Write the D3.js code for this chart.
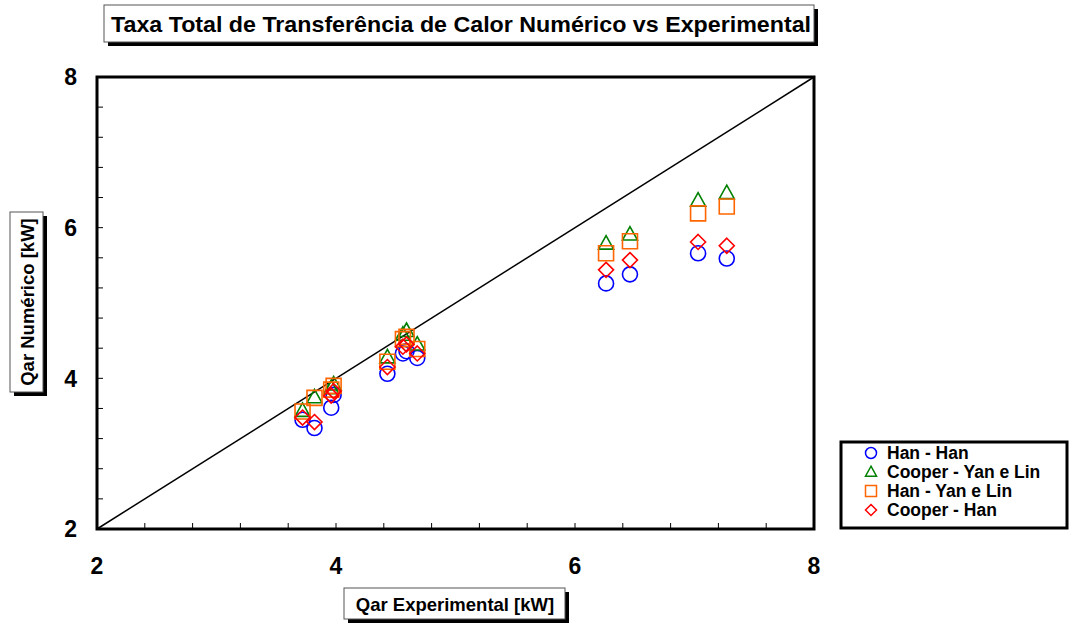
<!DOCTYPE html>
<html>
<head>
<meta charset="utf-8">
<script src="https://cdn.jsdelivr.net/npm/d3@7"></script>
<style>
  body { margin: 0; background: #fff; }
  svg text { font-family: "Liberation Sans", Arial, sans-serif; font-weight: bold; }
</style>
</head>
<body>
<svg id="svg1" width="1069" height="624"></svg>
<script>
"use strict"

// experimental heat rate (x) for every test point
const qExperimental = [3.72, 3.82, 3.96, 3.98, 4.43, 4.56, 4.59, 4.68, 6.26, 6.46, 7.03, 7.27];

// numerical heat rate for each model combination
const hanHan       = [3.45, 3.34, 3.61, 3.78, 4.06, 4.33, 4.36, 4.27, 5.26, 5.38, 5.66, 5.59];
const cooperYanLin = [3.57, 3.75, 3.87, 3.92, 4.28, 4.58, 4.63, 4.45, 5.79, 5.91, 6.36, 6.46];
const hanYanLin    = [3.56, 3.74, 3.85, 3.90, 4.22, 4.52, 4.55, 4.39, 5.66, 5.82, 6.19, 6.28];
const cooperHan    = [3.48, 3.42, 3.77, 3.83, 4.15, 4.42, 4.45, 4.33, 5.44, 5.57, 5.81, 5.76];

const seriesNames = ["Han - Han", "Cooper - Yan e Lin", "Han - Yan e Lin", "Cooper - Han"];
const majorTicks = [2, 4, 6, 8];
const minorTicks = d3.range(2.4, 8, 0.4);

const series = [
  {name: seriesNames[0], values: hanHan,       color: "#0000ff", shape: "circle"},
  {name: seriesNames[1], values: cooperYanLin, color: "#008000", shape: "triangle"},
  {name: seriesNames[2], values: hanYanLin,    color: "#ff6600", shape: "square"},
  {name: seriesNames[3], values: cooperHan,    color: "#ff0000", shape: "diamond"}
];

const svg = d3.select("#svg1");

const plotL = 97, plotR = 814, plotT = 77, plotB = 529;
const x = d3.scaleLinear().domain([2, 8]).range([plotL, plotR]);
const y = d3.scaleLinear().domain([2, 8]).range([plotB, plotT]);

// marker path drawn around (0,0)
function markerPath(shape, s) {
  if (shape === "circle") return d3.symbol(d3.symbolCircle, Math.PI * s * s)();
  if (shape === "square") return `M${-s},${-s}H${s}V${s}H${-s}Z`;
  if (shape === "triangle") return `M0,${-s * 1.05}L${s},${s * 0.75}L${-s},${s * 0.75}Z`;
  return `M0,${-s}L${s},0L0,${s}L${-s},0Z`;
}

// boxed label with drop shadow
function shadowBox(x0, y0, w, h) {
  svg.append("rect").attr("x", x0 + 4).attr("y", y0 + 4).attr("width", w).attr("height", h).attr("fill", "#000");
  svg.append("rect").attr("x", x0).attr("y", y0).attr("width", w).attr("height", h)
    .attr("fill", "#fff").attr("stroke", "#555").attr("stroke-width", 1);
}

// title (narrow bold face in the original, so squeeze to fit)
shadowBox(104, 5, 710, 37);
svg.append("text").attr("x", 461).attr("y", 24).attr("dy", "0.36em")
  .attr("text-anchor", "middle").style("font-size", "22px")
  .attr("textLength", 700).attr("lengthAdjust", "spacingAndGlyphs")
  .text("Taxa Total de Transferência de Calor Numérico vs Experimental");

// minor ticks pointing into the plot
const g = svg.append("g");
g.selectAll(".xt").data(minorTicks).enter().append("line")
  .attr("x1", d => x(d)).attr("x2", d => x(d))
  .attr("y1", plotB).attr("y2", plotB - 6)
  .attr("stroke", "#000").attr("stroke-width", 1);
g.selectAll(".yt").data(minorTicks).enter().append("line")
  .attr("y1", d => y(d)).attr("y2", d => y(d))
  .attr("x1", plotL).attr("x2", plotL + 6)
  .attr("stroke", "#000").attr("stroke-width", 1);

// tick labels
g.selectAll(".xl").data(majorTicks).enter().append("text")
  .attr("x", d => x(d)).attr("y", 566).attr("dy", "0.36em")
  .attr("text-anchor", "middle").style("font-size", "23px")
  .text(d => d);
g.selectAll(".yl").data(majorTicks).enter().append("text")
  .attr("x", 77).attr("y", d => y(d)).attr("dy", "0.36em")
  .attr("text-anchor", "end").style("font-size", "23px")
  .text(d => d);

// diagonal y = x
g.append("line")
  .attr("x1", x(2)).attr("y1", y(2)).attr("x2", x(8)).attr("y2", y(8))
  .attr("stroke", "#000").attr("stroke-width", 1.5);

// data markers
series.forEach(s => {
  g.selectAll(null).data(qExperimental).enter().append("path")
    .attr("d", markerPath(s.shape, 7.5))
    .attr("transform", (d, i) => `translate(${x(d)},${y(s.values[i])})`)
    .attr("fill", "none").attr("stroke", s.color).attr("stroke-width", 1.6);
});

// plot frame
g.append("rect").attr("x", plotL).attr("y", plotT)
  .attr("width", plotR - plotL).attr("height", plotB - plotT)
  .attr("fill", "none").attr("stroke", "#000").attr("stroke-width", 3);

// axis titles
shadowBox(344, 588, 221, 31);
svg.append("text").attr("x", 455).attr("y", 604).attr("dy", "0.36em")
  .attr("text-anchor", "middle").style("font-size", "18.5px")
  .text("Qar Experimental [kW]");

shadowBox(10, 212, 33, 180);
svg.append("text").attr("transform", "translate(27,302) rotate(-90)")
  .attr("dy", "0.36em").attr("text-anchor", "middle").style("font-size", "18.5px")
  .text("Qar Numérico [kW]");

// legend
svg.append("rect").attr("x", 841).attr("y", 442).attr("width", 226).attr("height", 86)
  .attr("fill", "#fff").attr("stroke", "#000").attr("stroke-width", 3);
series.forEach((s, i) => {
  const ly = 453 + i * 19;
  svg.append("path").attr("d", markerPath(s.shape, 5.5))
    .attr("transform", `translate(871,${ly})`)
    .attr("fill", "none").attr("stroke", s.color).attr("stroke-width", 1.5);
  svg.append("text").attr("x", 887).attr("y", ly).attr("dy", "0.36em")
    .style("font-size", "17.5px").text(s.name);
});
</script>
</body>
</html>
